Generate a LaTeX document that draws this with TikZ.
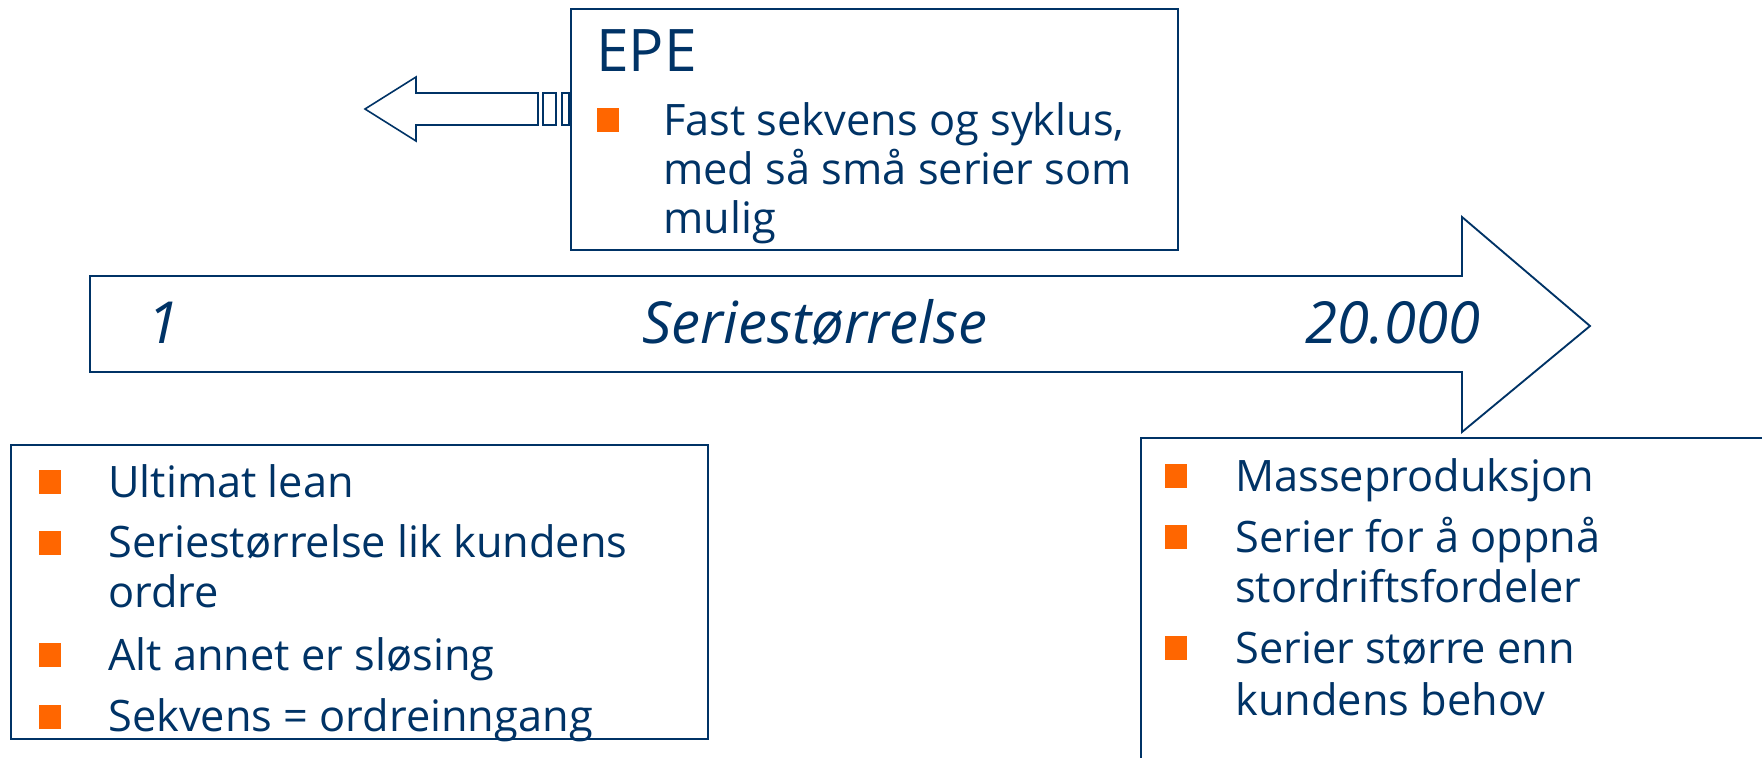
\documentclass[tikz,border=0pt]{standalone}
\usepackage{fontspec}
\setmainfont{Open Sans}
\definecolor{navy}{HTML}{003366}
\definecolor{bull}{HTML}{FF6600}
\tikzset{
  outline/.style={draw=navy, line width=1.4pt, line join=miter},
  bul/.style={fill=bull, minimum width=16.5pt, minimum height=18pt, inner sep=0pt, outer sep=0pt},
  txt/.style={text=navy, anchor=base west, inner sep=0pt, font=\fontsize{32.5}{39}\selectfont},
  axtxt/.style={text=navy, anchor=base, inner sep=0pt, font=\fontsize{43.5}{50}\selectfont\itshape},
  head/.style={text=navy, anchor=base west, inner sep=0pt, font=\fontsize{44}{52}\selectfont},
}
\begin{document}
\begin{tikzpicture}[x=0.75pt,y=-0.75pt]
\clip (0,0) rectangle (1762,757);
\fill[white] (0,0) rectangle (1762,757);
% main arrow
\draw[outline, fill=white] (90,276) -- (1462,276) -- (1462,217) -- (1590,326) -- (1462,432) -- (1462,372) -- (90,372) -- cycle;
\node[axtxt] (one) at (163,343) {1};
\node[axtxt] (serie) at (815,343) {Seriestørrelse};
\node[axtxt] (twenty) at (1393,343) {20.000};
% left arrow
\draw[outline, line width=1.2pt, fill=white] (538,93) -- (416,93) -- (416,77) -- (365,109) -- (416,141) -- (416,125) -- (538,125) -- cycle;
\draw[outline, line width=1.2pt] (543,93) rectangle (556,125);
\draw[outline, line width=1.2pt] (562,93) rectangle (569,125);
% EPE box
\draw[outline, fill=white] (571,9) rectangle (1178,250);
\node[head] (epe) at (596,71) {EPE};
\node[bul] (eb1) at (608,120) {};
\node[txt] (e1) at (663,135) {Fast sekvens og syklus,};
\node[txt] (e2) at (663,184) {med så små serier som};
\node[txt] (e3) at (663,233) {mulig};
% left box
\draw[outline, fill=white] (11,445) rectangle (708,739);
\node[bul] (lb1) at (50,482) {};
\node[txt] (l1) at (108,497) {Ultimat lean};
\node[bul] (lb2) at (50,543) {};
\node[txt] (l2) at (108,557) {Seriestørrelse lik kundens};
\node[txt] (l3) at (108,607) {ordre};
\node[bul] (lb3) at (50,655) {};
\node[txt] (l4) at (108,670) {Alt annet er sløsing};
\node[bul] (lb4) at (50,717) {};
\node[txt] (l5) at (108,731) {Sekvens = ordreinngang};
% right box
\draw[outline, fill=white] (1141,438) rectangle (1780,780);
\node[bul] (rb1) at (1176,476) {};
\node[txt] (r1) at (1235,491) {Masseproduksjon};
\node[bul] (rb2) at (1176,537) {};
\node[txt] (r2) at (1235,552) {Serier for å oppnå};
\node[txt] (r3) at (1235,602) {stordriftsfordeler};
\node[bul] (rb3) at (1176,648) {};
\node[txt] (r4) at (1235,663) {Serier større enn};
\node[txt] (r5) at (1235,715) {kundens behov};
\end{tikzpicture}
\end{document}
